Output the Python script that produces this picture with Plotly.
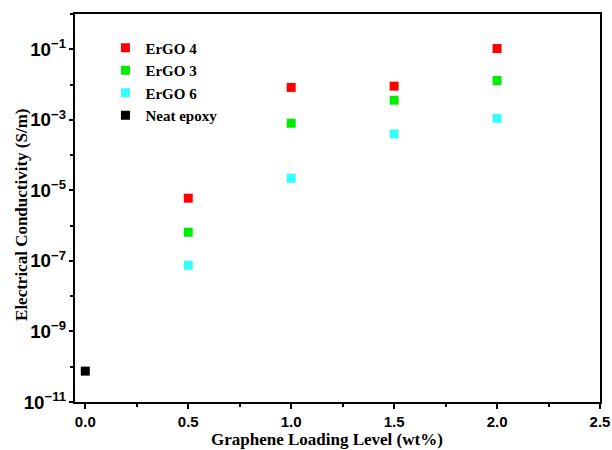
import plotly.graph_objects as go

loading = [0.5, 1.0, 1.5, 2.0]
ergo4 = [6.0e-6, 8.3e-3, 9.0e-3, 0.105]
ergo3 = [6.5e-7, 8.0e-4, 3.6e-3, 1.3e-2]
ergo6 = [7.5e-8, 2.2e-5, 4.0e-4, 1.1e-3]
neat_x = [0.0]
neat_y = [7.5e-11]
x_title = "Graphene Loading Level (wt%)"
y_title = "Electrical Conductivity (S/m)"

series = [
    ("ErGO 4", loading, ergo4, "#ff0000"),
    ("ErGO 3", loading, ergo3, "#00ee00"),
    ("ErGO 6", loading, ergo6, "#33ffff"),
    ("Neat epoxy", neat_x, neat_y, "#000000"),
]

fig = go.Figure()
for name, xs, ys, col in series:
    fig.add_trace(go.Scatter(x=xs, y=ys, mode="markers", name=name,
                             marker=dict(symbol="square", size=9, color=col,
                                         line=dict(width=0))))

tickfont = dict(family="Liberation Sans", size=15, color="black", weight="bold")
titlefont = dict(family="Liberation Serif", size=17, color="black", weight="bold")

fig.update_layout(
    width=612, height=450,
    margin=dict(l=75, r=12, t=14, b=48),
    plot_bgcolor="white", paper_bgcolor="white",
    showlegend=True,
    legend=dict(x=0.058, y=0.955, xanchor="left", yanchor="top",
                bgcolor="rgba(0,0,0,0)", tracegroupgap=0,
                font=dict(family="Liberation Serif", size=15, color="black", weight="bold"),
                itemwidth=30),
    annotations=[
        dict(text=x_title, xref="paper", yref="paper", x=0.48, y=-0.097,
             xanchor="center", yanchor="middle", showarrow=False, font=titlefont),
        dict(text=y_title, xref="paper", yref="paper", x=-0.101, y=0.482,
             xanchor="center", yanchor="middle", showarrow=False, textangle=-90,
             font=titlefont),
    ],
)
fig.update_xaxes(
    range=[-0.05, 2.5], tick0=0, dtick=0.5, tickformat=".1f",
    showline=True, linecolor="black", linewidth=2, mirror=True,
    ticks="outside", ticklen=5, tickwidth=2, tickcolor="black",
    minor=dict(dtick=0.25, ticks="outside", ticklen=3, tickwidth=2, tickcolor="black"),
    showgrid=False, zeroline=False, tickfont=tickfont, automargin=False,
)
fig.update_yaxes(
    type="log", range=[-11, 0], tick0=-11, dtick=2, exponentformat="power",
    showline=True, linecolor="black", linewidth=2, mirror=True,
    ticks="outside", ticklen=4, tickwidth=2, tickcolor="black",
    minor=dict(dtick=1, ticks="outside", ticklen=3, tickwidth=2, tickcolor="black"),
    showgrid=False, zeroline=False, tickfont=tickfont, automargin=False,
)
fig.write_html("out.html")
